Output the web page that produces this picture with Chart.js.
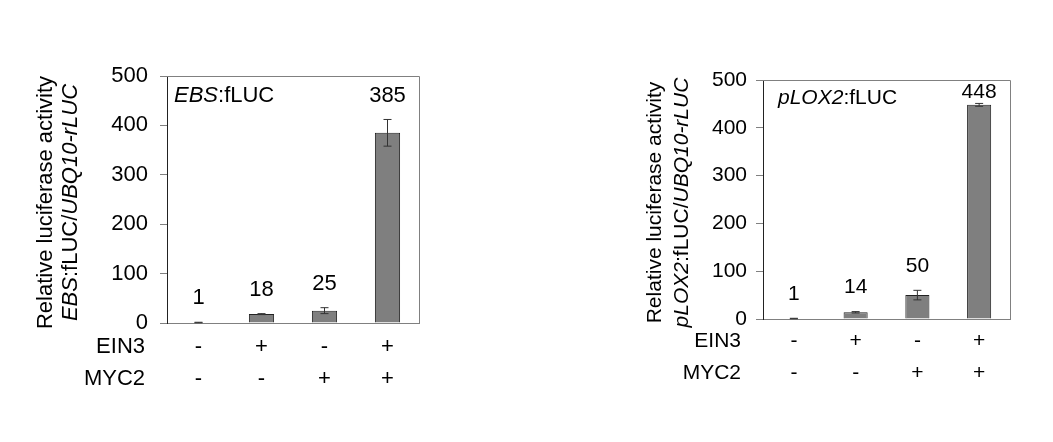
<!DOCTYPE html>
<html>
<head>
<meta charset="utf-8">
<script src="https://cdn.jsdelivr.net/npm/chart.js@4/dist/chart.umd.min.js"></script>
<style>
  html, body { margin: 0; padding: 0; background: #fff; }
  body { width: 1053px; height: 442px; position: relative; overflow: hidden; }
  canvas { position: absolute; top: 0; }
</style>
</head>
<body>
<canvas id="ebs-chart" width="527" height="442" style="left:0"></canvas>
<canvas id="lox-chart" width="526" height="442" style="left:527px"></canvas>
<script>
// Data
const rowNames = ['EIN3', 'MYC2'];
const ein3 = ['-', '+', '-', '+'];
const myc2 = ['-', '-', '+', '+'];

const ebsValues = [1, 18, 25, 385];
const ebsErrors = [0.5, 1, 6, 27];

const loxValues = [1, 14, 50, 448];
const loxErrors = [0.5, 1.5, 10, 3];

const yMax = 500;
const yStep = 100;

const FONT = '"Liberation Sans", Arial, sans-serif';

// Draws a string made of italic / regular pieces, starting at x
function richText(ctx, parts, x, y, size) {
    let cx = x;
    parts.forEach(p => {
        ctx.font = (p.i ? 'italic ' : '') + size + 'px ' + FONT;
        ctx.fillText(p.t, cx, y);
        cx += ctx.measureText(p.t).width;
    });
}

function richWidth(ctx, parts, size) {
    let w = 0;
    parts.forEach(p => {
        ctx.font = (p.i ? 'italic ' : '') + size + 'px ' + FONT;
        w += ctx.measureText(p.t).width;
    });
    return w;
}

function makeChart(id, opt) {
    const fs = opt.fontSize;
    const lineH = opt.rowGap;

    const extras = {
        id: 'extras',
        afterDraw(chart) {
            const ctx = chart.ctx;
            const area = chart.chartArea;
            const y = chart.scales.y;
            const x = chart.scales.x;
            ctx.save();

            // top and right frame lines
            ctx.strokeStyle = '#808080';
            ctx.lineWidth = 1;
            ctx.beginPath();
            ctx.moveTo(area.left, area.top + 0.5);
            ctx.lineTo(area.right + 0.5, area.top + 0.5);
            ctx.lineTo(area.right + 0.5, area.bottom);
            ctx.stroke();

            // error bars and value labels
            const meta = chart.getDatasetMeta(0);
            meta.data.forEach((bar, i) => {
                const v = opt.values[i];
                const e = opt.errors[i];
                const yHi = y.getPixelForValue(v + e);
                const yLo = y.getPixelForValue(v - e);
                ctx.strokeStyle = '#333';
                ctx.beginPath();
                ctx.moveTo(bar.x, yHi);
                ctx.lineTo(bar.x, yLo);
                ctx.moveTo(bar.x - 4, yHi);
                ctx.lineTo(bar.x + 4, yHi);
                ctx.moveTo(bar.x - 4, yLo);
                ctx.lineTo(bar.x + 4, yLo);
                ctx.stroke();

                const ly = Math.max(yHi - 24, area.top + 12);
                ctx.fillStyle = '#000';
                ctx.font = fs + 'px ' + FONT;
                ctx.textAlign = 'center';
                ctx.textBaseline = 'middle';
                ctx.fillText(String(v), bar.x, ly);
            });

            // panel title
            ctx.textAlign = 'left';
            ctx.textBaseline = 'middle';
            ctx.fillStyle = '#000';
            richText(ctx, opt.title, area.left + opt.titleDx, area.top + opt.titleDy, fs);

            // row names next to the +/- rows
            ctx.textAlign = 'right';
            ctx.font = fs + 'px ' + FONT;
            rowNames.forEach((name, r) => {
                const ry = x.top + opt.tickPad + lineH / 2 + r * lineH;
                ctx.fillText(name, area.left - opt.rowDx, ry);
            });

            // y axis title, two rotated lines
            const cy = (area.top + area.bottom) / 2 + 3;
            opt.yTitle.forEach((parts, k) => {
                ctx.save();
                ctx.translate(opt.yTitleX[k], cy);
                ctx.rotate(-Math.PI / 2);
                ctx.textAlign = 'left';
                ctx.textBaseline = 'middle';
                const w = richWidth(ctx, parts, fs);
                richText(ctx, parts, -w / 2, 0, fs);
                ctx.restore();
            });

            ctx.restore();
        }
    };

    return new Chart(document.getElementById(id), {
        type: 'bar',
        data: {
            labels: ein3.map((s, i) => [s, myc2[i]]),
            datasets: [{
                data: opt.values,
                backgroundColor: '#7f7f7f',
                borderColor: '#222',
                borderWidth: 1,
                barPercentage: opt.barPct,
                categoryPercentage: 1
            }]
        },
        options: {
            responsive: false,
            animation: false,
            layout: { padding: opt.padding },
            plugins: {
                legend: { display: false },
                tooltip: { enabled: false }
            },
            scales: {
                x: {
                    grid: { display: false, drawTicks: false },
                    border: { display: true, color: '#808080' },
                    ticks: {
                        color: '#000',
                        padding: opt.tickPad,
                        maxRotation: 0,
                        autoSkip: false,
                        font: { family: FONT, size: fs, lineHeight: lineH / fs }
                    },
                    afterFit: s => { s.height = 80; }
                },
                y: {
                    min: 0,
                    max: yMax,
                    ticks: {
                        stepSize: yStep,
                        color: '#000',
                        padding: opt.yPad,
                        font: { family: FONT, size: fs }
                    },
                    grid: { drawOnChartArea: false, drawTicks: true, tickLength: 7, color: '#808080' },
                    border: { color: '#222' },
                    afterFit: s => { s.width = opt.yWidth; }
                }
            }
        },
        plugins: [extras]
    });
}

makeChart('ebs-chart', {
    values: ebsValues,
    errors: ebsErrors,
    fontSize: 22,
    rowGap: 32,
    tickPad: 8,
    yPad: 12,
    yWidth: 167,
    barPct: 0.4,
    padding: { left: 0, top: 76, right: 108, bottom: 39 },
    title: [{ t: 'EBS', i: true }, { t: ':fLUC', i: false }],
    titleDx: 7,
    titleDy: 20,
    rowDx: 22,
    yTitleX: [46, 71],
    yTitle: [
        [{ t: 'Relative luciferase activity', i: false }],
        [{ t: 'EBS', i: true }, { t: ':fLUC/', i: false }, { t: 'UBQ10-rLUC', i: true }]
    ]
});

makeChart('lox-chart', {
    values: loxValues,
    errors: loxErrors,
    fontSize: 21,
    rowGap: 31.6,
    tickPad: 6.5,
    yPad: 9,
    yWidth: 236,
    barPct: 0.39,
    padding: { left: 0, top: 80, right: 43, bottom: 43 },
    title: [{ t: 'pLOX2', i: true }, { t: ':fLUC', i: false }],
    titleDx: 15,
    titleDy: 18,
    rowDx: 22,
    yTitleX: [128, 155],
    yTitle: [
        [{ t: 'Relative luciferase activity', i: false }],
        [{ t: 'pLOX2', i: true }, { t: ':fLUC/', i: false }, { t: 'UBQ10-rLUC', i: true }]
    ]
});
</script>
</body>
</html>
